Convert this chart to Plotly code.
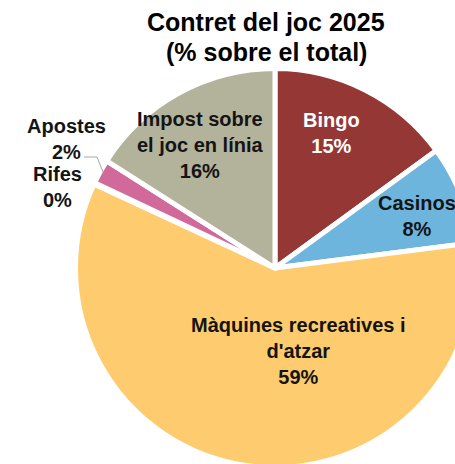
import plotly.graph_objects as go

# ---- data ----
categories = ["Bingo", "Casinos", "Màquines recreatives i d'atzar", "Rifes", "Apostes",
              "Impost sobre el joc en línia"]
display_labels = ["Bingo", "Casinos", "Màquines recreatives i<br>d'atzar", "Rifes", "Apostes",
                  "Impost sobre<br>el joc en línia"]
values = [15, 8, 59, 0.1, 2, 16]
pct_labels = ["15%", "8%", "59%", "0%", "2%", "16%"]
colors = ["#953735", "#6DB5DC", "#FECC6E", "#8064A2", "#D1699B", "#B3B29A"]
title_lines = ["Contret del joc 2025", "(% sobre el total)"]

# ---- layout geometry (page pixels) ----
W, H = 480, 480
CX, CY, R = 275, 268, 199.5

def px(x):
    return x / W

def py(y):
    return 1 - y / H

FONT = "Arial, 'Liberation Sans', sans-serif"
DARK = "#141414"

fig = go.Figure(go.Pie(
    labels=categories,
    values=values,
    sort=False,
    direction="clockwise",
    rotation=0,
    marker=dict(colors=colors, line=dict(color="#FFFFFF", width=5)),
    textinfo="none",
    hoverinfo="label+percent",
    showlegend=False,
    domain=dict(x=[px(CX - R), px(CX + R)], y=[py(CY + R), py(CY - R)]),
))

# label positions (page pixels) and colours
label_pos = [(331, 133), (417, 216), (298, 351), (57, 187), (66, 139), (200, 145)]
label_col = ["#FFFFFF", DARK, DARK, DARK, DARK, DARK]

annotations = []
for lab, pct, (x, y), col in zip(display_labels, pct_labels, label_pos, label_col):
    annotations.append(dict(
        x=px(x), y=py(y), xref="paper", yref="paper",
        text=f"<b>{lab}<br>{pct}</b>", showarrow=False,
        xanchor="center", yanchor="middle", align="center",
        font=dict(family=FONT, size=20, color=col),
    ))

# title, one line per annotation for exact line spacing
for line, y in zip(title_lines, [22, 52]):
    annotations.append(dict(
        x=px(266), y=py(y), xref="paper", yref="paper",
        text=f"<b>{line}</b>", showarrow=False,
        xanchor="center", yanchor="middle",
        font=dict(family=FONT, size=25, color="#000000"),
    ))

shapes = [dict(
    type="path", xref="paper", yref="paper",
    path=f"M {px(84)},{py(157)} L {px(97)},{py(157)} L {px(103)},{py(172)}",
    line=dict(color="#A6A6A6", width=1),
)]

fig.update_layout(
    width=W, height=H,
    margin=dict(l=0, r=0, t=0, b=0),
    paper_bgcolor="#FFFFFF",
    plot_bgcolor="#FFFFFF",
    annotations=annotations,
    shapes=shapes,
)

fig.write_html(
    "out.html",
    config={"displayModeBar": False},
    post_script="document.body.style.margin='0';document.body.style.overflow='hidden';"
                "document.documentElement.style.overflow='hidden';",
)
